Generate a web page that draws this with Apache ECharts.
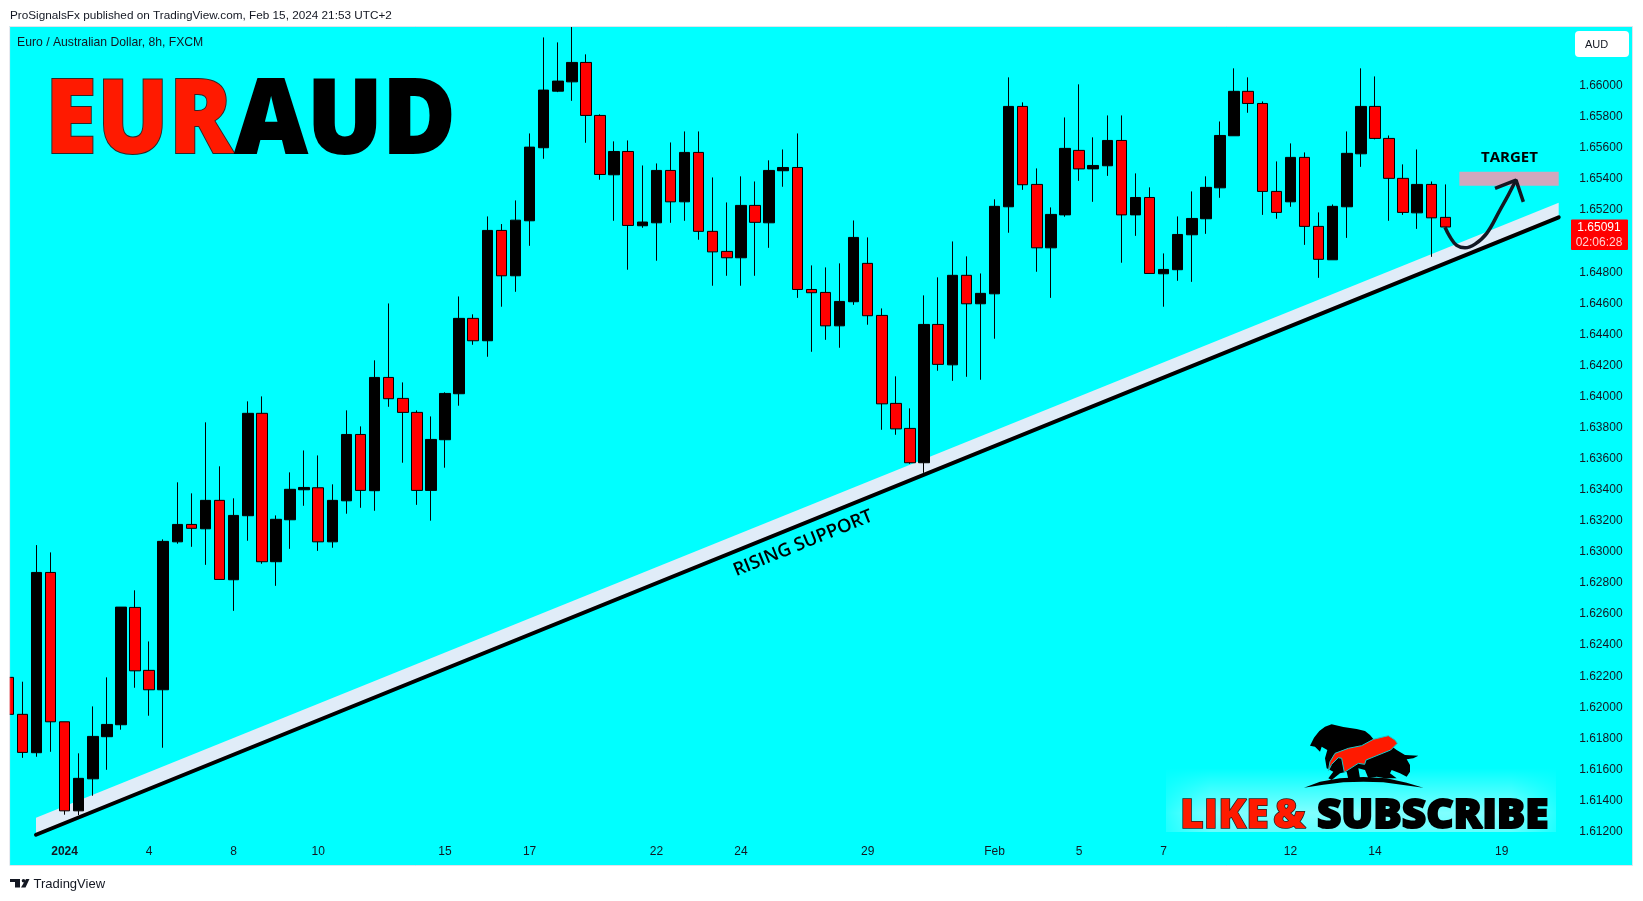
<!DOCTYPE html>
<html><head><meta charset="utf-8">
<style>html,body{margin:0;padding:0;background:#fff}#c{width:1643px;height:901px}</style>
<script src="https://cdn.jsdelivr.net/npm/echarts@6/dist/echarts.min.js"></script>
</head><body><div id="c"></div>
<script>
// [open, close, low, high] of each 8h bar
const candles = [
[1.62193,1.61955,1.61918,1.62240],
[1.61955,1.61710,1.61675,1.62165],[1.61708,1.62868,1.61682,1.63044],[1.62868,1.61907,1.61714,1.62997],[1.61907,1.61334,1.61309,1.61907],
[1.61334,1.61543,1.61307,1.61704],[1.61540,1.61813,1.61431,1.62006],[1.61811,1.61890,1.61598,1.62193],[1.61888,1.62645,1.61856,1.62645],
[1.62643,1.62235,1.62126,1.62753],[1.62238,1.62113,1.61946,1.62424],[1.62113,1.63068,1.61740,1.63081],[1.63065,1.63177,1.63053,1.63448],
[1.63177,1.63152,1.63033,1.63377],[1.63149,1.63332,1.62917,1.63834],[1.63332,1.62823,1.62823,1.63551],[1.62821,1.63235,1.62621,1.63345],
[1.63233,1.63892,1.63072,1.63969],[1.63892,1.62937,1.62924,1.64001],[1.62937,1.63210,1.62782,1.63235],[1.63207,1.63403,1.63020,1.63512],
[1.63400,1.63415,1.63297,1.63653],[1.63413,1.63065,1.63007,1.63621],[1.63065,1.63332,1.63027,1.63435],[1.63329,1.63756,1.63246,1.63911],
[1.63756,1.63396,1.63284,1.63808],[1.63394,1.64123,1.63265,1.64233],[1.64123,1.63986,1.63934,1.64599],[1.63988,1.63898,1.63574,1.64091],
[1.63898,1.63396,1.63303,1.63911],[1.63396,1.63724,1.63201,1.63872],[1.63722,1.64020,1.63542,1.64027],[1.64018,1.64503,1.63941,1.64644],
[1.64503,1.64359,1.64333,1.64529],[1.64359,1.65069,1.64256,1.65159],[1.65069,1.64777,1.64578,1.65110],[1.64777,1.65135,1.64674,1.65262],
[1.65131,1.65605,1.64970,1.65693],[1.65601,1.65972,1.65530,1.66311],[1.65965,1.66030,1.65959,1.66279],[1.66025,1.66150,1.65903,1.66378],
[1.66150,1.65809,1.65633,1.66202],[1.65809,1.65429,1.65395,1.65816],[1.65427,1.65577,1.65131,1.65642],[1.65577,1.65101,1.64816,1.65648],
[1.65099,1.65123,1.65086,1.65487],[1.65118,1.65455,1.64874,1.65500],[1.65455,1.65253,1.65118,1.65635],[1.65253,1.65571,1.65131,1.65706],
[1.65571,1.65063,1.65009,1.65706],[1.65063,1.64931,1.64713,1.65410],[1.64934,1.64893,1.64777,1.65249],[1.64893,1.65230,1.64713,1.65417],
[1.65230,1.65121,1.64777,1.65384],[1.65118,1.65455,1.64957,1.65520],[1.65453,1.65474,1.65350,1.65590],[1.65474,1.64689,1.64635,1.65693],
[1.64689,1.64668,1.64288,1.64844],[1.64670,1.64455,1.64365,1.64831],[1.64455,1.64612,1.64314,1.64857],[1.64610,1.65024,1.64590,1.65133],
[1.64857,1.64520,1.64462,1.65024],[1.64522,1.63953,1.63786,1.64567],[1.63956,1.63792,1.63754,1.64130],[1.63795,1.63574,1.63567,1.63924],
[1.63574,1.64464,1.63509,1.64651],[1.64464,1.64207,1.64166,1.64767],[1.64204,1.64780,1.64101,1.64998],[1.64780,1.64597,1.64127,1.64902],
[1.64597,1.64664,1.64108,1.64792],[1.64661,1.65224,1.64372,1.65269],[1.65221,1.65867,1.65054,1.66054],[1.65867,1.65363,1.65330,1.65893],
[1.65365,1.64957,1.64803,1.65468],[1.64957,1.65172,1.64635,1.65217],[1.65169,1.65597,1.65157,1.65796],[1.65584,1.65465,1.65388,1.66009],
[1.65465,1.65487,1.65253,1.65668],[1.65485,1.65648,1.65420,1.65809],[1.65648,1.65169,1.64861,1.65809],[1.65169,1.65281,1.65034,1.65436],
[1.65281,1.64792,1.64792,1.65346],[1.64790,1.64818,1.64578,1.64921],[1.64816,1.65043,1.64745,1.65159],[1.65041,1.65146,1.64738,1.65320],
[1.65144,1.65346,1.65047,1.65417],[1.65343,1.65680,1.65279,1.65770],[1.65678,1.65964,1.65678,1.66112],[1.65964,1.65886,1.65826,1.66054],
[1.65886,1.65320,1.65169,1.65899],[1.65320,1.65185,1.65144,1.65513],[1.65253,1.65539,1.65221,1.65629],[1.65539,1.65095,1.64976,1.65571],
[1.65095,1.64883,1.64764,1.65185],[1.64880,1.65224,1.64880,1.65236],[1.65221,1.65565,1.65021,1.65706],[1.65562,1.65867,1.65478,1.66112],
[1.65867,1.65661,1.65655,1.66060],[1.65661,1.65404,1.65131,1.65680],[1.65404,1.65185,1.65169,1.65494],[1.65182,1.65365,1.65079,1.65590],
[1.65365,1.65150,1.64899,1.65384],[1.65153,1.65091,1.65091,1.65365]
];
const slotCount = 111; // bars plus empty future slots
const xTickLabels = {4:'2024',10:'4',16:'8',22:'10',31:'15',37:'17',46:'22',52:'24',61:'29',70:'Feb',76:'5',82:'7',91:'12',97:'14',106:'19'};
const yTicks = [1.612,1.614,1.616,1.618,1.62,1.622,1.624,1.626,1.628,1.63,1.632,1.634,1.636,1.638,1.64,1.642,1.644,1.646,1.648,1.65,1.652,1.654,1.656,1.658,1.66];
// drawings, as [bar slot, price]
const supportLine = [[1.97,1.61180],[110.04,1.65153]];
const supportBandTop = [[1.97,1.61289],[110.04,1.65247]];
const targetZone = [[102.99,1.65446],[110.04,1.65356]];
const arrowCurve = [[101.97,1.65089],[102.32,1.65028],[102.80,1.64973],[103.39,1.64957],[104.10,1.64981],[104.93,1.65050],[105.87,1.65200],[106.46,1.65296],[107.01,1.65393]];
const arrowHead = [[105.52,1.65339],[107.01,1.65393],[107.53,1.65253]];
const lastPrice = '1.65091', countdown = '02:06:28';

const AX = '"Liberation Sans"', UI = '"Open Sans"';
const chart = echarts.init(document.getElementById('c'), null, {renderer:'canvas', width:1643, height:901});
const logoX = 1290, logoY = 715, lg = pts => pts.map(p => [logoX + p[0]/3, logoY + p[1]/3]);
const slots = Array.from({length:slotCount}, (_, i) => 'b' + i);

chart.setOption({
  animation:false,
  backgroundColor:'#ffffff',
  grid:{left:1.2, top:27, width:1563.99, height:839, containLabel:false},
  xAxis:[
    {type:'category', data:slots, boundaryGap:true, axisLine:{show:false}, axisTick:{show:false}, splitLine:{show:false},
     axisLabel:{inside:true, interval:0, margin:8, color:'#131722', fontFamily:AX, fontSize:12, hideOverlap:false,
       formatter:(v,i)=> xTickLabels[i] ? (xTickLabels[i]==='2024' ? '{b|2024}' : xTickLabels[i]) : '',
       rich:{b:{fontWeight:'bold', fontFamily:AX, fontSize:12, color:'#131722'}}}},
    {type:'value', show:false, min:-0.5, max:slotCount-0.5, splitLine:{show:false}}
  ],
  yAxis:{type:'value', position:'right', min:1.60979, max:1.66378, scale:true,
    axisLine:{show:false}, axisTick:{show:false}, splitLine:{show:false},
    axisLabel:{customValues:yTicks, margin:14, color:'#131722', fontFamily:AX, fontSize:12, formatter:v=>v.toFixed(5)}},
  series:[
    {type:'custom', xAxisIndex:1, z:1, silent:true, data:[[0]], renderItem:(p,api)=>({type:'polygon',
      shape:{points:[...supportBandTop, supportLine[1], supportLine[0]].map(c=>api.coord(c))}, style:{fill:'#E0ECF8'}})},
    {type:'line', xAxisIndex:1, z:2, silent:true, symbol:'none', data:supportLine, lineStyle:{color:'#000', width:4, cap:'round'}},
    {type:'candlestick', xAxisIndex:0, z:3, silent:true, barWidth:11, data:candles,
      itemStyle:{color:'#000000', color0:'#FF0000', borderColor:'#000000', borderColor0:'#000000', borderColorDoji:'#000000', borderWidth:1}},
    {type:'custom', xAxisIndex:1, z:4, silent:true, data:[[0]], renderItem:(p,api)=>{
      const a=api.coord(targetZone[0]), b=api.coord(targetZone[1]);
      return {type:'rect', shape:{x:a[0], y:a[1], width:b[0]-a[0], height:b[1]-a[1]}, style:{fill:'#D1A7BD'}};}},
    {type:'line', xAxisIndex:1, z:5, silent:true, symbol:'none', smooth:0.4, data:arrowCurve, lineStyle:{color:'#131722', width:3.5}},
    {type:'line', xAxisIndex:1, z:5, silent:true, symbol:'none', data:arrowHead, lineStyle:{color:'#131722', width:3.5}}
  ],
  graphic:{elements:[
    {type:'rect', z:-5, silent:true, shape:{x:9.5,y:26.5,width:1623,height:839}, style:{fill:'#00FFFF', stroke:'#E0E3EB', lineWidth:1}},
    // white cover left of the pane
    {type:'rect', z:50, silent:true, shape:{x:0,y:27,width:9.5,height:840}, style:{fill:'#fff'}},
    {type:'rect', z:51, silent:true, shape:{x:9.5,y:27,width:0.6,height:838}, style:{fill:'#E0E3EB'}},
    {type:'text', z:60, x:10, y:16, style:{text:'ProSignalsFx published on TradingView.com, Feb 15, 2024 21:53 UTC+2', font:'11.75px '+AX, fill:'#131722', textVerticalAlign:'middle'}},
    {type:'text', z:60, x:17, y:43, style:{text:'Euro / Australian Dollar, 8h, FXCM', font:'12.2px '+AX, fill:'#131722', textVerticalAlign:'middle'}},
    // title
    {type:'text', z:60, x:45, y:123.5, scaleX:0.92, style:{text:'EUR', font:'800 103px '+UI, fill:'#FF1A00', stroke:'#2a2a2a', lineWidth:2, shadowBlur:12, shadowColor:'#ffffff', textVerticalAlign:'middle'}},
    {type:'text', z:60, x:235, y:123.5, scaleX:0.965, style:{text:'AUD', font:'800 103px '+UI, fill:'#000', stroke:'#000', lineWidth:2, shadowBlur:12, shadowColor:'#ffffff', textVerticalAlign:'middle'}},
    // target / support labels
    {type:'text', z:60, x:1509.5, y:157.5, style:{text:'TARGET', font:'bold 15px '+UI, fill:'#000', textAlign:'center', textVerticalAlign:'middle'}},
    {type:'text', z:60, x:803, y:543.5, rotation:0.386, style:{text:'RISING SUPPORT', font:'600 18.4px '+UI, fill:'#000', textAlign:'center', textVerticalAlign:'middle'}},
    // currency button
    {type:'rect', z:60, shape:{x:1575,y:31,width:54,height:26,r:4}, style:{fill:'#fff'}},
    {type:'text', z:61, x:1585, y:44.5, style:{text:'AUD', font:'11px '+AX, fill:'#131722', textVerticalAlign:'middle'}},
    // last price tag
    {type:'rect', z:60, shape:{x:1571,y:219.5,width:57,height:30.5,r:1}, style:{fill:'#FF0000'}},
    {type:'text', z:61, x:1599, y:228, style:{text:lastPrice, font:'12px '+AX, fill:'#fff', textAlign:'center', textVerticalAlign:'middle'}},
    {type:'text', z:61, x:1599, y:242.5, style:{text:countdown, font:'12px '+AX, fill:'#FFD0D0', textAlign:'center', textVerticalAlign:'middle'}},
    // subscribe glow
    {type:'rect', z:20, shape:{x:1166,y:768,width:390,height:64}, style:{fill:new echarts.graphic.LinearGradient(0,0,0,1,[{offset:0,color:'rgba(255,255,255,0)'},{offset:0.7,color:'rgba(255,255,255,0.5)'},{offset:1,color:'rgba(255,255,255,0.4)'}])}},
    {type:'rect', z:20, shape:{x:1166,y:768,width:45,height:64}, style:{fill:new echarts.graphic.LinearGradient(0,0,1,0,[{offset:0,color:'rgba(0,255,255,0.7)'},{offset:1,color:'rgba(0,255,255,0)'}])}},
    {type:'rect', z:20, shape:{x:1511,y:768,width:45,height:64}, style:{fill:new echarts.graphic.LinearGradient(0,0,1,0,[{offset:0,color:'rgba(0,255,255,0)'},{offset:1,color:'rgba(0,255,255,0.7)'}])}},
    // logo
    {type:'polygon', z:21, shape:{points:lg([[60,92],[72,68],[88,48],[105,35],[125,28],[160,36],[200,42],[225,48],[240,60],[255,78],[300,90],[320,105],[345,120],[385,122],[370,130],[350,133],[360,150],[360,170],[350,185],[330,175],[305,165],[300,175],[320,190],[285,190],[260,185],[235,190],[225,165],[205,160],[210,190],[175,192],[170,170],[150,175],[125,195],[115,190],[130,170],[110,160],[105,130],[112,105],[95,95],[90,110],[75,95]])}, style:{fill:'#000'}},
    {type:'polygon', z:22, shape:{points:lg([[115,168],[120,140],[135,115],[175,100],[215,92],[250,73],[295,62],[315,75],[322,85],[302,105],[228,135],[224,148],[205,145],[163,172],[155,130],[145,128],[125,148]])}, style:{fill:'#FF1A00', stroke:'#19C8C8', lineWidth:1}},
    {type:'polygon', z:22, shape:{points:lg([[42,218],[90,200],[150,190],[220,186],[290,190],[350,203],[400,218],[340,210],[280,202],[220,200],[160,202],[100,209]])}, style:{fill:'#000'}},
    // like & subscribe
    {type:'text', z:23, x:1180, y:816.5, style:{text:'LIKE', font:'800 41px '+UI, fill:'#FF1A00', stroke:'#222', lineWidth:1.5, textVerticalAlign:'middle', shadowBlur:8, shadowColor:'#fff'}},
    {type:'text', z:23, x:1273, y:816.5, style:{text:'&', font:'800 41px '+UI, fill:'#FF1A00', stroke:'#222', lineWidth:1.5, textVerticalAlign:'middle', shadowBlur:8, shadowColor:'#fff'}},
    {type:'text', z:23, x:1317, y:816.5, scaleX:1.03, style:{text:'SUBSCRIBE', font:'800 41px '+UI, fill:'#000', stroke:'#000', lineWidth:2, textVerticalAlign:'middle', shadowBlur:8, shadowColor:'#fff'}},
    // footer logo + text
    {type:'polygon', z:60, shape:{points:[[10,879],[20,879],[20,887.5],[15,887.5],[15,882],[10,882]]}, style:{fill:'#131722'}},
    {type:'circle', z:60, shape:{cx:23.5,cy:880.7,r:1.8}, style:{fill:'#131722'}},
    {type:'polygon', z:60, shape:{points:[[26,879],[29.5,879],[25.5,887.5],[21,887.5]]}, style:{fill:'#131722'}},
    {type:'text', z:60, x:33.5, y:884.5, style:{text:'TradingView', font:'13px '+AX, fill:'#131722', textVerticalAlign:'middle'}}
  ]}
});
</script></body></html>
